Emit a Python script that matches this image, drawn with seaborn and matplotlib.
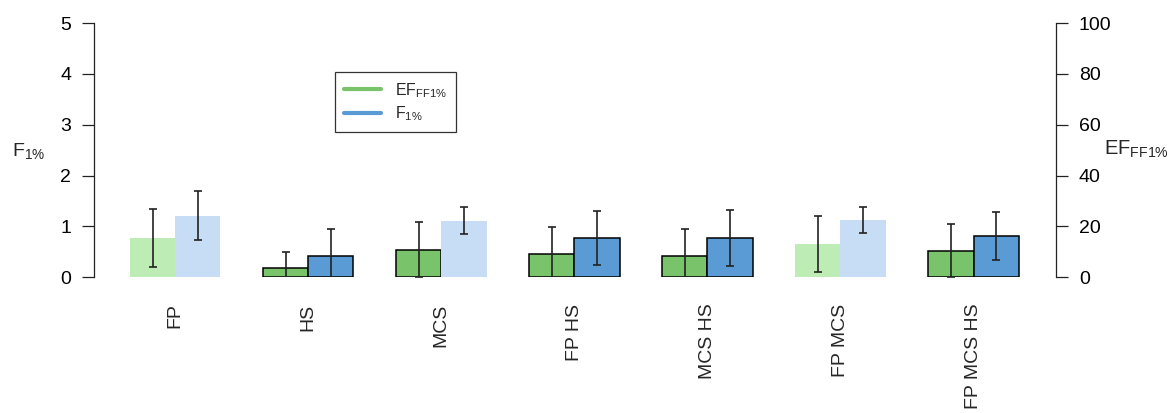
import numpy as np
import pandas as pd
import seaborn as sns
import matplotlib.pyplot as plt
from matplotlib.lines import Line2D

# data
combos = ["FP", "HS", "MCS", "FP HS", "MCS HS", "FP MCS", "FP MCS HS"]
ef_mean = [15.4, 3.6, 10.6, 9.0, 8.2, 13.2, 10.4]    # EF_FF1% (right axis, 0-100)
ef_sd = [11.4, 6.2, 11.0, 10.6, 10.6, 11.0, 10.6]
f_mean = [1.21, 0.42, 1.11, 0.77, 0.77, 1.12, 0.81]  # F_1% (left axis, 0-5)
f_sd = [0.48, 0.53, 0.27, 0.54, 0.55, 0.26, 0.47]
ef_faded = [True, False, False, False, False, True, False]
f_faded = [True, False, True, False, False, True, False]

green, green_light = "#79c46b", "#bdedb4"
blue, blue_light = "#5b9bd5", "#c6ddf5"

# EF is drawn on the F scale (100 on the right == 5 on the left)
df = pd.DataFrame({
    "combo": combos * 2,
    "series": ["EF"] * len(combos) + ["F"] * len(combos),
    "value": [v / 20 for v in ef_mean] + f_mean,
    "err": [v / 20 for v in ef_sd] + f_sd,
})

sns.set_style("white")
plt.rcParams["font.family"] = ["Liberation Sans", "DejaVu Sans"]
plt.rcParams["font.size"] = 14

fig = plt.figure(figsize=(11.71, 4.13), dpi=100)
ax = fig.add_axes([0.0803, 0.329, 0.8215, 0.615])

sns.barplot(data=df, x="combo", y="value", hue="series", order=combos,
            hue_order=["EF", "F"], palette=[green, blue], width=0.68,
            errorbar=None, legend=False, ax=ax, saturation=1)

for cont, faded, base, light, key in [
        (ax.containers[0], ef_faded, green, green_light, "EF"),
        (ax.containers[1], f_faded, blue, blue_light, "F")]:
    sub = df[df["series"] == key]
    xs = []
    for bar, fd in zip(cont, faded):
        if fd:
            bar.set_facecolor(light)
            bar.set_edgecolor("none")
            bar.set_linewidth(0)
        else:
            bar.set_facecolor(base)
            bar.set_edgecolor("black")
            bar.set_linewidth(1.1)
        xs.append(bar.get_x() + bar.get_width() / 2)
    ax.errorbar(xs, sub["value"], yerr=sub["err"], fmt="none",
                ecolor="#222222", elinewidth=1.2, capsize=2.6,
                capthick=1.2, zorder=5)

ax.set_xlim(-0.61, 6.62)
ax.set_ylim(0, 5)
ax.set_yticks(range(0, 6))
ax.tick_params(axis="y", direction="out", length=8.5, width=0.9,
               colors="#222222", labelcolor="black", pad=8, left=True,
               labelsize=14)
ax.tick_params(axis="x", length=0, pad=19, labelsize=14)
plt.setp(ax.get_xticklabels(), rotation=90, va="top")
ax.set_xlabel("")
ax.set_ylabel("")
for s in ["top", "bottom", "right"]:
    ax.spines[s].set_visible(False)
ax.spines["left"].set_color("#222222")
ax.spines["left"].set_linewidth(0.9)

ax2 = ax.twinx()
ax2.set_ylim(0, 100)
ax2.set_yticks(range(0, 101, 20))
ax2.tick_params(axis="y", direction="out", length=8.5, width=0.9,
                colors="#222222", labelcolor="black", pad=8, right=True,
                labelsize=14)
for s in ["top", "bottom", "left"]:
    ax2.spines[s].set_visible(False)
ax2.spines["right"].set_color("#222222")
ax2.spines["right"].set_linewidth(0.9)

fig.text(0.010, 0.635, r"F$\mathregular{_{1\%}}$", fontsize=14, va="center")
fig.text(0.943, 0.638, r"EF$\mathregular{_{FF1\%}}$", fontsize=14.5, va="center")

handles = [Line2D([], [], color=green, lw=3), Line2D([], [], color=blue, lw=3)]
leg = ax.legend(handles, [r"EF$\mathregular{_{FF1\%}}$", r"F$\mathregular{_{1\%}}$"],
                loc="upper left", bbox_to_anchor=(0.2505, 0.807),
                borderaxespad=0, fancybox=False, frameon=True, fontsize=11.5,
                handlelength=2.3, handletextpad=0.9, labelspacing=0.3,
                borderpad=0.55)
leg.get_frame().set_edgecolor("black")
leg.get_frame().set_linewidth(0.9)

fig.savefig("out.png", dpi=100)
